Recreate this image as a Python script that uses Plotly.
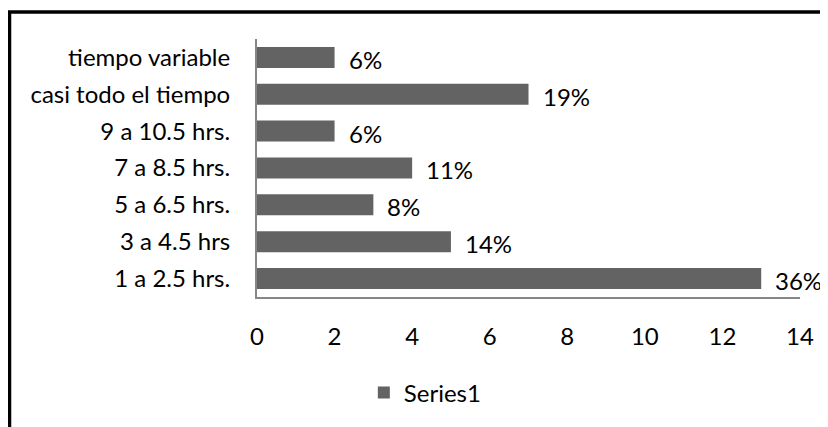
import plotly.graph_objects as go

categories = ["1 a 2.5 hrs.", "3 a 4.5 hrs", "5 a 6.5 hrs.", "7 a 8.5 hrs.",
              "9 a 10.5 hrs.", "casi todo el tiempo", "tiempo variable"]
values = [13, 5, 3, 4, 2, 7, 2]
pct_labels = ["36%", "14%", "8%", "11%", "6%", "19%", "6%"]
x_ticks = [0, 2, 4, 6, 8, 10, 12, 14]

FONT = "Lato"
FS = 24
BAR = "#636363"
AXIS = "#868686"

fig = go.Figure()
fig.add_trace(go.Bar(
    y=categories, x=values, orientation="h", name="Series1",
    marker=dict(color=BAR, line=dict(width=0)), width=0.57,
    showlegend=True,
))

for c, v, t in zip(categories, values, pct_labels):
    fig.add_annotation(x=v, y=c, text=t, showarrow=False, xanchor="left",
                       yanchor="middle", xshift=12, yshift=-2,
                       font=dict(family=FONT, size=FS, color="black"))

# outer chart border (only top and left visible in the reference)
fig.add_shape(type="rect", xref="paper", yref="paper",
              x0=-0.4558, x1=1.3, y0=-1.0, y1=1.1046,
              line=dict(color="black", width=3.5), layer="above")

fig.update_layout(
    width=820, height=419,
    margin=dict(l=249, r=28, t=31, b=125),
    paper_bgcolor="white", plot_bgcolor="white",
    font=dict(family=FONT, size=FS, color="black"),
    bargap=0.43,
    xaxis=dict(range=[0, 14], tickvals=x_ticks, showgrid=False, zeroline=False,
               showline=True, linecolor=AXIS, linewidth=2, ticks="",
               ticklabelstandoff=17, tickfont=dict(family=FONT, size=FS)),
    yaxis=dict(showgrid=False, zeroline=False, showline=True, linecolor=AXIS,
               linewidth=2, ticks="", ticklabelstandoff=20,
               categoryorder="array", categoryarray=categories,
               tickfont=dict(family=FONT, size=FS)),
    legend=dict(orientation="h", x=0.31, xanchor="center", y=-0.372,
                yanchor="middle", font=dict(family=FONT, size=FS),
                itemwidth=30),
)

fig.write_html("out.html")
